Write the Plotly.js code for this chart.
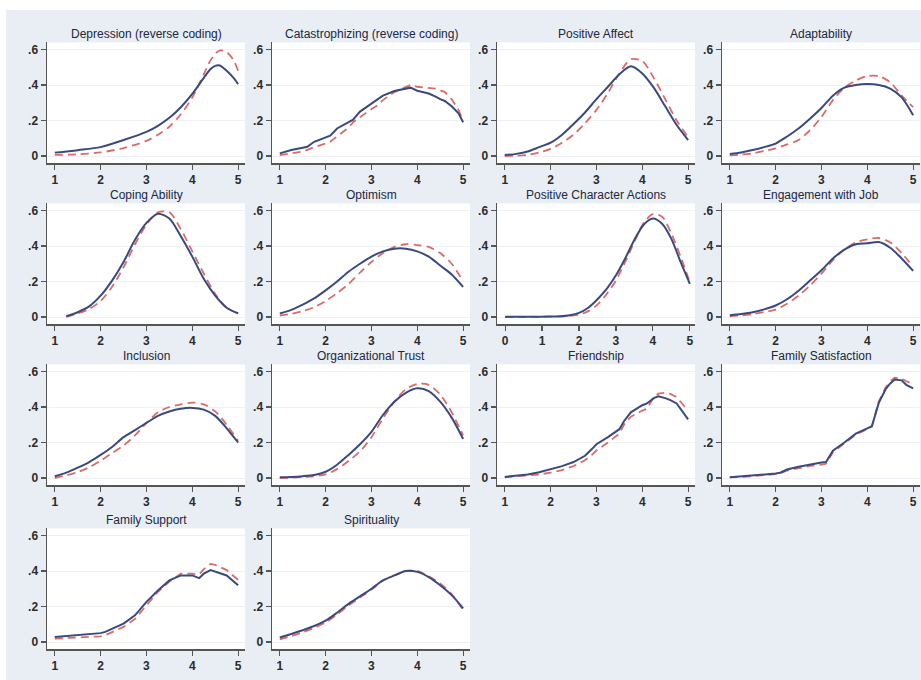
<!DOCTYPE html>
<html>
<head>
<meta charset="utf-8">
<script src="https://cdn.plot.ly/plotly-3.0.1.min.js"></script>
<style>
html,body{margin:0;padding:0;background:#ffffff;}
#chart{position:absolute;left:6px;top:10px;width:915px;height:670px;}
</style>
</head>
<body>
<div id="chart"></div>
<script>
// ---------- data ----------
var titles = ["Depression (reverse coding)", "Catastrophizing (reverse coding)", "Positive Affect", "Adaptability",
  "Coping Ability", "Optimism", "Positive Character Actions", "Engagement with Job",
  "Inclusion", "Organizational Trust", "Friendship", "Family Satisfaction",
  "Family Support", "Spirituality"];

var gridX = [1,1.25,1.5,1.75,2,2.25,2.5,2.75,3,3.25,3.5,3.75,4,4.25,4.5,4.75,5];

var depX = [1,1.5,2,2.5,3,3.25,3.5,3.75,4,4.25,4.4,4.5,4.6,4.75,4.9,5];
var depBlue = [0.019,0.033,0.05,0.09,0.136,0.17,0.215,0.275,0.35,0.44,0.49,0.508,0.51,0.48,0.44,0.405];
var depRed = [0.006,0.01,0.02,0.045,0.085,0.12,0.165,0.235,0.33,0.46,0.54,0.575,0.595,0.585,0.54,0.48];

var catX = [1,1.25,1.5,1.6,1.75,2,2.1,2.25,2.5,2.6,2.75,3,3.1,3.25,3.5,3.75,3.85,4,4.25,4.4,4.5,4.6,4.75,4.9,5];
var catBlue = [0.015,0.034,0.047,0.052,0.08,0.105,0.115,0.155,0.19,0.205,0.25,0.295,0.31,0.34,0.366,0.378,0.385,0.368,0.352,0.335,0.32,0.31,0.28,0.24,0.19];
var catRed = [0.005,0.015,0.025,0.035,0.05,0.07,0.08,0.11,0.16,0.19,0.22,0.265,0.28,0.315,0.36,0.39,0.4,0.39,0.385,0.38,0.37,0.36,0.32,0.26,0.2];

var paBlue = [0.006,0.012,0.025,0.05,0.075,0.12,0.18,0.245,0.32,0.39,0.46,0.505,0.465,0.385,0.28,0.175,0.09];
var paRed = [0.0,0.002,0.006,0.02,0.04,0.075,0.12,0.185,0.26,0.355,0.465,0.545,0.535,0.44,0.32,0.2,0.105];

var adBlue = [0.011,0.02,0.034,0.05,0.07,0.11,0.155,0.21,0.27,0.34,0.385,0.40,0.405,0.40,0.38,0.33,0.23];
var adRed = [0.004,0.008,0.015,0.028,0.043,0.065,0.09,0.145,0.22,0.315,0.385,0.425,0.45,0.45,0.415,0.34,0.275];

var copX = [1.25,1.5,1.75,2,2.25,2.5,2.75,3,3.25,3.5,3.75,4,4.25,4.5,4.75,5];
var copBlue = [0.004,0.027,0.06,0.12,0.205,0.31,0.435,0.53,0.582,0.555,0.455,0.34,0.215,0.12,0.052,0.02];
var copRed = [0.0,0.02,0.045,0.09,0.17,0.28,0.41,0.52,0.59,0.59,0.495,0.37,0.245,0.13,0.052,0.02];

var optBlue = [0.02,0.04,0.07,0.105,0.15,0.2,0.255,0.3,0.34,0.37,0.385,0.385,0.37,0.34,0.29,0.24,0.17];
var optRed = [0.008,0.018,0.033,0.055,0.09,0.135,0.186,0.25,0.31,0.36,0.395,0.41,0.405,0.395,0.36,0.3,0.2];

var pcaX = [0,0.5,1,1.5,1.75,2,2.25,2.5,2.75,3,3.25,3.5,3.75,4,4.25,4.5,4.75,5];
var pcaBlue = [0.001,0.001,0.002,0.004,0.01,0.023,0.052,0.1,0.158,0.235,0.33,0.435,0.52,0.555,0.525,0.44,0.31,0.187];
var pcaRed = [0,0,0.001,0.003,0.007,0.013,0.033,0.07,0.13,0.206,0.31,0.425,0.53,0.58,0.565,0.47,0.34,0.196];

var engBlue = [0.01,0.017,0.027,0.043,0.065,0.1,0.148,0.205,0.263,0.33,0.38,0.41,0.415,0.422,0.39,0.33,0.26];
var engRed = [0.004,0.009,0.017,0.028,0.042,0.075,0.12,0.177,0.244,0.32,0.38,0.42,0.438,0.445,0.42,0.36,0.283];

var incBlue = [0.01,0.03,0.058,0.09,0.13,0.175,0.23,0.27,0.31,0.35,0.375,0.39,0.395,0.385,0.35,0.28,0.2];
var incRed = [0.0,0.015,0.033,0.06,0.097,0.14,0.183,0.24,0.31,0.37,0.4,0.415,0.425,0.415,0.375,0.3,0.21];

var otBlue = [0.004,0.006,0.01,0.017,0.035,0.075,0.13,0.19,0.26,0.355,0.43,0.48,0.505,0.49,0.43,0.34,0.22];
var otRed = [0.0,0.002,0.005,0.01,0.02,0.05,0.096,0.15,0.23,0.335,0.43,0.5,0.53,0.525,0.47,0.37,0.24];

var frX = [1,1.25,1.5,1.75,2,2.25,2.5,2.75,2.9,3,3.25,3.5,3.6,3.75,4,4.1,4.25,4.35,4.5,4.6,4.75,5];
var frBlue = [0.006,0.012,0.02,0.032,0.048,0.067,0.09,0.125,0.163,0.19,0.23,0.275,0.32,0.37,0.41,0.42,0.45,0.46,0.45,0.44,0.42,0.33];
var frRed = [0.004,0.008,0.014,0.02,0.03,0.045,0.067,0.1,0.13,0.155,0.2,0.25,0.3,0.345,0.38,0.39,0.455,0.475,0.48,0.475,0.455,0.38];

var fsX = [1,1.5,2,2.1,2.25,2.5,2.75,3,3.1,3.25,3.5,3.75,4,4.1,4.25,4.4,4.5,4.6,4.75,4.85,5];
var fsBlue = [0.004,0.013,0.025,0.03,0.048,0.063,0.077,0.087,0.09,0.154,0.2,0.25,0.28,0.292,0.423,0.5,0.533,0.555,0.55,0.525,0.505];
var fsRed = [0.003,0.01,0.022,0.025,0.042,0.055,0.068,0.075,0.08,0.145,0.195,0.245,0.275,0.29,0.43,0.51,0.545,0.565,0.56,0.545,0.53];

var fspX = [1,1.5,2,2.1,2.25,2.5,2.75,3,3.25,3.5,3.75,4,4.15,4.25,4.4,4.5,4.75,5];
var fspBlue = [0.028,0.038,0.05,0.057,0.075,0.104,0.15,0.226,0.29,0.347,0.375,0.375,0.36,0.385,0.405,0.396,0.375,0.32];
var fspRed = [0.019,0.025,0.032,0.038,0.057,0.085,0.13,0.207,0.283,0.34,0.385,0.385,0.38,0.41,0.44,0.435,0.405,0.35];

var spBlue = [0.025,0.045,0.066,0.09,0.12,0.165,0.215,0.257,0.30,0.347,0.375,0.4,0.395,0.366,0.32,0.264,0.19];
var spRed = [0.015,0.033,0.055,0.08,0.11,0.155,0.205,0.25,0.295,0.345,0.375,0.4,0.4,0.37,0.33,0.27,0.18];

var yTickVals = [0, 0.2, 0.4, 0.6];
var yTickText = ["0", ".2", ".4", ".6"];
var xTicks15 = [1, 2, 3, 4, 5];
var xTicks05 = [0, 1, 2, 3, 4, 5];

// ---------- panels ----------
var panels = [
  {x: depX, b: depBlue, r: depRed, shape: "spline"},
  {x: catX, b: catBlue, r: catRed, shape: "linear"},
  {x: gridX, b: paBlue, r: paRed, shape: "spline"},
  {x: gridX, b: adBlue, r: adRed, shape: "spline"},
  {x: copX, b: copBlue, r: copRed, shape: "spline"},
  {x: gridX, b: optBlue, r: optRed, shape: "spline"},
  {x: pcaX, b: pcaBlue, r: pcaRed, shape: "spline", wide: true},
  {x: gridX, b: engBlue, r: engRed, shape: "spline"},
  {x: gridX, b: incBlue, r: incRed, shape: "spline"},
  {x: gridX, b: otBlue, r: otRed, shape: "spline"},
  {x: frX, b: frBlue, r: frRed, shape: "linear"},
  {x: fsX, b: fsBlue, r: fsRed, shape: "linear"},
  {x: fspX, b: fspBlue, r: fspRed, shape: "linear"},
  {x: gridX, b: spBlue, r: spRed, shape: "spline"}
];

// ---------- layout geometry (pixels in the 921x680 window) ----------
var OX = 6, OY = 10, W = 915, H = 670;
var colLeft = [47, 272, 497, 722];
var colW = 198;
var rowZero = [156, 317, 478, 642];
var pxPerUnit = 177.5;
var yRange = [-0.04, 0.64];

function px2x(p) { return (p - OX) / W; }
function px2y(p) { return 1 - (p - OY) / H; }

var BLUE = "#3b4a7c", RED = "#d86d68";
var fontFam = "Liberation Sans, Arial, Helvetica, sans-serif";

var data = [];
var layout = {
  width: W, height: H,
  margin: {l: 0, r: 0, t: 0, b: 0},
  paper_bgcolor: "#e9eef5",
  plot_bgcolor: "#ffffff",
  showlegend: false,
  annotations: []
};

panels.forEach(function (p, i) {
  var row = Math.floor(i / 4), col = i % 4;
  var n = i + 1;
  var xa = "x" + (n === 1 ? "" : n), ya = "y" + (n === 1 ? "" : n);
  var left = colLeft[col], right = left + colW;
  var top = rowZero[row] - yRange[1] * pxPerUnit;
  var bottom = rowZero[row] - yRange[0] * pxPerUnit;
  var axCommon = {
    showline: true, linecolor: "#555", linewidth: 1.5,
    ticks: "outside", ticklen: 5, tickcolor: "#555", tickwidth: 1.2,
    zeroline: false, fixedrange: true,
    tickfont: {family: fontFam, size: 12, color: "#2b2b2b", weight: "bold"}
  };
  layout["xaxis" + (n === 1 ? "" : n)] = Object.assign({}, axCommon, {
    domain: [px2x(left), px2x(right)],
    anchor: ya,
    range: p.wide ? [-0.22, 5.14] : [0.83, 5.15],
    tickmode: "array",
    tickvals: p.wide ? xTicks05 : xTicks15,
    showgrid: false
  });
  layout["yaxis" + (n === 1 ? "" : n)] = Object.assign({}, axCommon, {
    domain: [px2y(bottom), px2y(top)],
    anchor: xa,
    range: yRange,
    tickmode: "array",
    tickvals: yTickVals,
    ticktext: yTickText,
    showgrid: true, gridcolor: "#edf1f5", gridwidth: 1
  });
  layout.annotations.push({
    xref: "paper", yref: "paper",
    x: px2x((left + right) / 2), y: px2y(top - 8),
    xanchor: "center", yanchor: "middle",
    text: titles[i], showarrow: false,
    font: {family: fontFam, size: 12, color: "#20263f"}
  });
  data.push({
    type: "scatter", mode: "lines", x: p.x, y: p.r, xaxis: xa, yaxis: ya,
    line: {color: RED, width: 1.8, dash: "8px,5px", shape: p.shape, smoothing: 0.8},
    hoverinfo: "skip"
  });
  data.push({
    type: "scatter", mode: "lines", x: p.x, y: p.b, xaxis: xa, yaxis: ya,
    line: {color: BLUE, width: 2, shape: p.shape, smoothing: 0.8},
    hoverinfo: "skip"
  });
});

Plotly.newPlot("chart", data, layout, {displayModeBar: false, staticPlot: true});
</script>
</body>
</html>
